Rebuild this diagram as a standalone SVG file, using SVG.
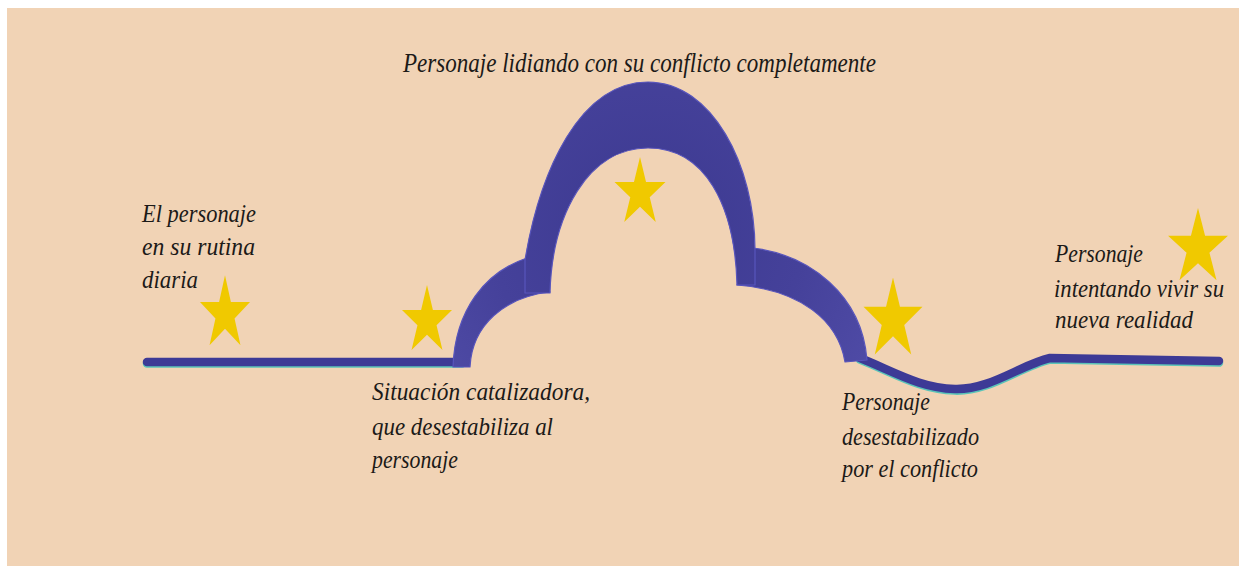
<svg xmlns="http://www.w3.org/2000/svg" width="1239" height="568" viewBox="0 0 1239 568">
  <style>
    .lbl { font-family: "Liberation Serif", "Times New Roman", serif; font-style: italic; font-size: 26px; fill: #1c1a18; }
    .title { font-size: 28px; }
    .band { fill: url(#bandGrad); stroke: #5855BC; stroke-width: 1.2; stroke-linejoin: round; }
    .track { fill: none; stroke: #3D3A96; stroke-width: 8.5; stroke-linecap: round; stroke-linejoin: round; }
    .glow { fill: none; stroke: #5BC4B8; stroke-width: 8.5; stroke-linecap: round; stroke-linejoin: round; }
    .star { fill: #F0C900; }
  </style>
  <defs>
    <polygon id="star" points="0,-1 0.2245,-0.309 0.951,-0.309 0.363,0.118 0.588,0.809 0,0.382 -0.588,0.809 -0.363,0.118 -0.951,-0.309 -0.2245,-0.309"/>
    <radialGradient id="bandGrad" gradientUnits="userSpaceOnUse" cx="648" cy="230" r="260">
      <stop offset="0" stop-color="#3C3990"/>
      <stop offset="0.6" stop-color="#45419A"/>
      <stop offset="1" stop-color="#4F4BA6"/>
    </radialGradient>
  </defs>

  <rect x="7" y="8" width="1232" height="558" fill="#F1D3B5"/>

  <g id="connectors">
    <g id="track-glow" transform="translate(0,1.6)">
      <path class="glow" d="M147,362 L462,362"/>
      <path class="glow" d="M860,358 C895,372 920,388 955,389 C990,390 1020,365 1050,358 L1219,361"/>
    </g>
    <path class="track" d="M147,362 L462,362"/>
    <path class="track" d="M860,358 C895,372 920,388 955,389 C990,390 1020,365 1050,358 L1219,361"/>
    <path class="band" d="M453,367 C455,310 485,272 527,258 L550,292 C505,297 472,325 470,367 Z"/>
    <path class="band" d="M753,248 C810,255 862,295 867,360 L845,362 C838,320 800,290 737,285 Z"/>
    <path class="band" d="M525,293 L525,260 C540,170 580,82 648,82 C712,82 755,165 755,250 L755,285 L737,285 C735,205 705,148 648,148 C588,148 552,215 550,293 Z"/>
  </g>

  <g id="stars">
    <use href="#star" class="star" transform="translate(225,314) scale(26.3,38.7)"/>
    <use href="#star" class="star" transform="translate(427,321) scale(26.3,36)"/>
    <use href="#star" class="star" transform="translate(640,193) scale(26.8,36)"/>
    <use href="#star" class="star" transform="translate(893,320) scale(31,42.6)"/>
    <use href="#star" class="star" transform="translate(1198,248) scale(31.5,40)"/>
  </g>

  <g id="node-title">
    <text class="lbl title" x="403" y="72" textLength="473" lengthAdjust="spacingAndGlyphs">Personaje lidiando con su conflicto completamente</text>
  </g>
  <g id="node-rutina">
    <text class="lbl" x="142" y="222" textLength="114" lengthAdjust="spacingAndGlyphs">El personaje</text>
    <text class="lbl" x="142" y="255" textLength="113" lengthAdjust="spacingAndGlyphs">en su rutina</text>
    <text class="lbl" x="142" y="288" textLength="56" lengthAdjust="spacingAndGlyphs">diaria</text>
  </g>
  <g id="node-catalizadora">
    <text class="lbl" x="372" y="400" textLength="218" lengthAdjust="spacingAndGlyphs">Situación catalizadora,</text>
    <text class="lbl" x="372" y="435" textLength="181" lengthAdjust="spacingAndGlyphs">que desestabiliza al</text>
    <text class="lbl" x="372" y="468" textLength="86" lengthAdjust="spacingAndGlyphs">personaje</text>
  </g>
  <g id="node-desestabilizado">
    <text class="lbl" x="842" y="410" textLength="88" lengthAdjust="spacingAndGlyphs">Personaje</text>
    <text class="lbl" x="842" y="445" textLength="137" lengthAdjust="spacingAndGlyphs">desestabilizado</text>
    <text class="lbl" x="842" y="477" textLength="136" lengthAdjust="spacingAndGlyphs">por el conflicto</text>
  </g>
  <g id="node-nueva-realidad">
    <text class="lbl" x="1055" y="262" textLength="88" lengthAdjust="spacingAndGlyphs">Personaje</text>
    <text class="lbl" x="1054" y="297" textLength="170" lengthAdjust="spacingAndGlyphs">intentando vivir su</text>
    <text class="lbl" x="1055" y="328" textLength="138" lengthAdjust="spacingAndGlyphs">nueva realidad</text>
  </g>
</svg>
